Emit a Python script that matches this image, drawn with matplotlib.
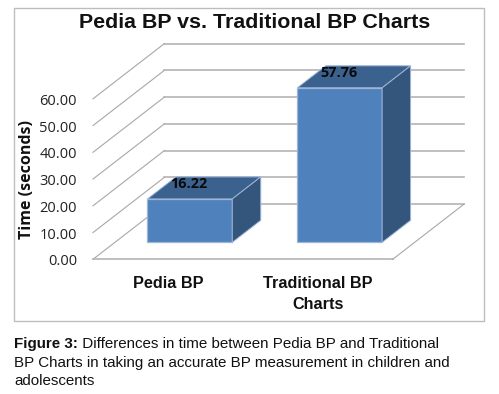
from matplotlib import pyplot as plt
from matplotlib.patches import Polygon, Rectangle

categories = ["Pedia BP", "Traditional BP\nCharts"]
times = [16.22, 57.76]
ticks = [0, 10, 20, 30, 40, 50, 60]
tick_labels = ["0.00", "10.00", "20.00", "30.00", "40.00", "50.00", "60.00"]

title = "Pedia BP vs. Traditional BP Charts"
ylabel = "Time (seconds)"
caption_bold = "Figure 3:"
caption_lines = ["Differences in time between Pedia BP and Traditional",
                 "BP Charts in taking an accurate BP measurement in children and",
                 "adolescents"]

# layout of the oblique box, in pixels
left, right, base = 93, 392.7, 259.3
px_per_unit = 2.675
depth_dx, depth_dy = 71.5, -55.3


def proj(cat, value, depth=0):
    # cat in category units, depth 0 = front of floor, 1 = back wall
    x = left + (right - left) * cat / len(categories) + depth_dx * depth
    y = base - value * px_per_unit + depth_dy * depth
    return x, y


fig = plt.figure(figsize=(4.99, 3.94), dpi=100)
ax = fig.add_axes([0, 0, 1, 1])
ax.set_xlim(0, 499)
ax.set_ylim(394, 0)
ax.axis("off")

ax.add_patch(Rectangle((14.5, 8), 469.5, 313, fc="white", ec="#BDBDBD", lw=1.0))

# gridlines: left wall then back wall
for t in ticks:
    ax.plot(*zip(proj(0, t), proj(0, t, 1)), color="#A8A8A8", lw=0.8, zorder=1)
    ax.plot(*zip(proj(0, t, 1), proj(2, t, 1)), color="#B4B4B4", lw=1.2, zorder=1)
# floor
ax.plot(*zip(proj(0, 0), proj(2, 0)), color="#B4B4B4", lw=1.2, zorder=1)
ax.plot(*zip(proj(2, 0), proj(2, 0, 1)), color="#A8A8A8", lw=0.8, zorder=1)

# bars
d0, d1 = 0.307, 0.705
gap = 0.217
front, top_c, side = "#4F81BD", "#3B618F", "#34557C"
edge = "#9DB5D6"
for i, v in enumerate(times):
    a, b = i + gap, i + 1 - gap
    ax.add_patch(Polygon([proj(a, 0, d0), proj(b, 0, d0), proj(b, v, d0), proj(a, v, d0)],
                         fc=front, ec=edge, lw=0.9, zorder=3))
    ax.add_patch(Polygon([proj(a, v, d0), proj(b, v, d0), proj(b, v, d1), proj(a, v, d1)],
                         fc=top_c, ec=edge, lw=0.7, zorder=3))
    ax.add_patch(Polygon([proj(b, 0, d0), proj(b, 0, d1), proj(b, v, d1), proj(b, v, d0)],
                         fc=side, ec=edge, lw=0.7, zorder=3))
    x, y = proj(i + 0.5, v, d0)
    ax.text(x - 1, y - 14.5, f"{v:.2f}", ha="center", va="center", fontsize=10.4,
            fontweight="bold", family="Open Sans", color="#0A0A0A", zorder=4)

for t, lab in zip(ticks, tick_labels):
    x, y = proj(0, t)
    ax.text(x - 16, y + 0.5, lab, ha="right", va="center_baseline", fontsize=10.5,
            family="Open Sans", color="#222222")

for i, lab in enumerate(categories):
    x, _ = proj(i + 0.5, 0)
    ax.text(x, 276.5, lab, ha="center", va="top", fontsize=11.7, fontweight="bold",
            family="Liberation Sans", color="#111111", linespacing=1.42)

ax.text(254.5, 22.5, title, ha="center", va="center", fontsize=15.4, fontweight="bold",
        family="Liberation Sans", color="#111111")
ax.text(27, 179, ylabel, ha="center", va="center", rotation=90, fontsize=11.5,
        fontweight="bold", family="Open Sans", color="#111111")

caption_size = 10.9
bold = ax.text(14.5, 344, caption_bold, ha="left", va="center", fontsize=caption_size,
               fontweight="bold", family="Liberation Sans", color="#111111")
ax.annotate(" " + caption_lines[0], xy=(1, 0.5), xycoords=bold, ha="left", va="center",
            fontsize=caption_size, family="Liberation Sans", color="#111111")
ax.text(14.5, 363, caption_lines[1], ha="left", va="center", fontsize=caption_size,
        family="Liberation Sans", color="#111111")
ax.text(14.5, 381, caption_lines[2], ha="left", va="center", fontsize=caption_size,
        family="Liberation Sans", color="#111111")

fig.savefig("out.png", dpi=100)
